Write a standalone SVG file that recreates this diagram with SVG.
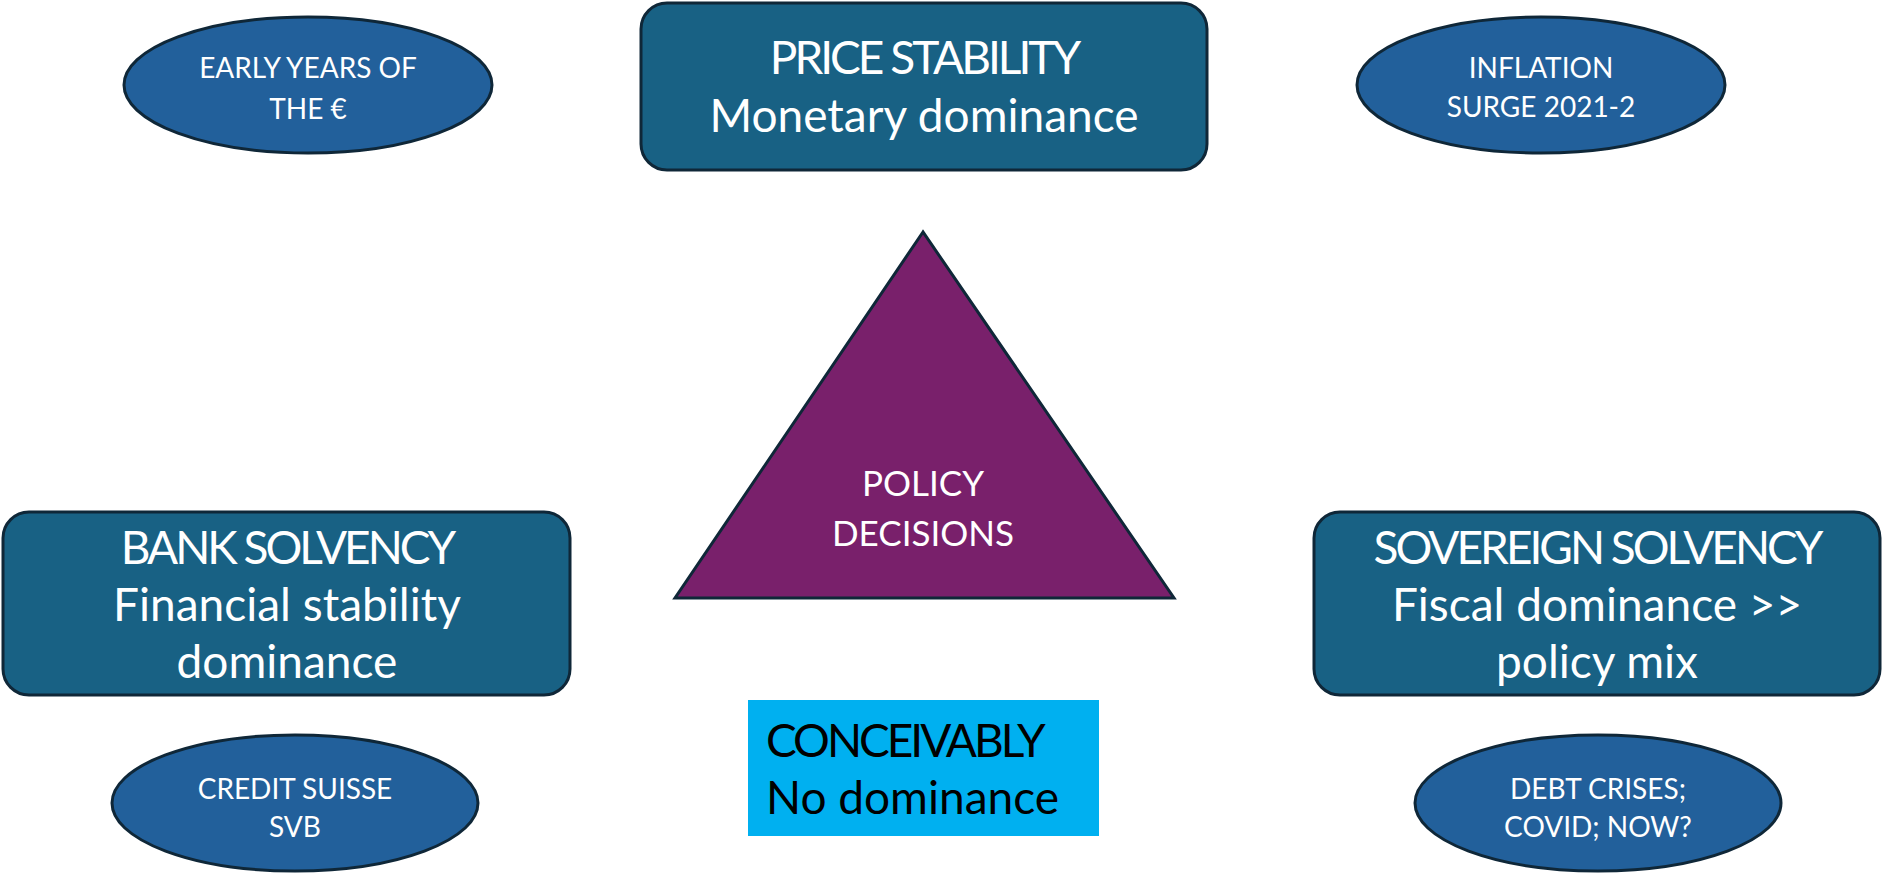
<svg xmlns="http://www.w3.org/2000/svg" width="1883" height="873" viewBox="0 0 1883 873">
<style>
.box{fill:#186184;stroke:#0F2738;stroke-width:3}
.ell{fill:#22609B;stroke:#0F2738;stroke-width:3}
.tri{fill:#79206B;stroke:#0F2738;stroke-width:3}
.big{font-family:Lato,"Liberation Sans",sans-serif;font-size:46px;fill:#fff;text-anchor:middle}
.caps{letter-spacing:-3px}
.sm{font-family:Lato,"Liberation Sans",sans-serif;font-size:28px;fill:#fff;text-anchor:middle}
.mid{font-family:Lato,"Liberation Sans",sans-serif;font-size:35px;fill:#fff;text-anchor:middle}
.blk{font-family:Lato,"Liberation Sans",sans-serif;font-size:46px;fill:#000}
</style>
<rect width="1883" height="873" fill="#fff"/>
<g id="connectors"></g>
<g id="early-years">
<ellipse class="ell" cx="308" cy="85" rx="184" ry="68"/>
<text class="sm" x="308" y="78">EARLY YEARS OF</text>
<text class="sm" x="308" y="119">THE €</text>
</g>
<g id="price-stability">
<rect class="box" x="641" y="3" width="566" height="167" rx="26"/>
<text class="big caps" x="924" y="74">PRICE STABILITY</text>
<text class="big" x="924" y="132">Monetary dominance</text>
</g>
<g id="inflation">
<ellipse class="ell" cx="1541" cy="85" rx="184" ry="68"/>
<text class="sm" x="1541" y="78">INFLATION</text>
<text class="sm" x="1541" y="117">SURGE 2021-2</text>
</g>
<g id="policy-decisions">
<polygon class="tri" points="923,232 675,598 1174,598"/>
<text class="mid" x="923" y="496">POLICY</text>
<text class="mid" x="923" y="546">DECISIONS</text>
</g>
<g id="bank-solvency">
<rect class="box" x="3" y="512" width="567" height="183" rx="26"/>
<text class="big caps" x="287" y="564">BANK SOLVENCY</text>
<text class="big" x="287" y="621">Financial stability</text>
<text class="big" x="287" y="678">dominance</text>
</g>
<g id="sovereign-solvency">
<rect class="box" x="1314" y="512" width="566" height="183" rx="26"/>
<text class="big caps" x="1597" y="564">SOVEREIGN SOLVENCY</text>
<text class="big" x="1597" y="621">Fiscal dominance &gt;&gt;</text>
<text class="big" x="1597" y="678">policy mix</text>
</g>
<g id="conceivably">
<rect x="748" y="700" width="351" height="136" fill="#00B0F0"/>
<text class="blk caps" x="766" y="757">CONCEIVABLY</text>
<text class="blk" x="766" y="814">No dominance</text>
</g>
<g id="credit-suisse">
<ellipse class="ell" cx="295" cy="803" rx="183" ry="68"/>
<text class="sm" x="295" y="799">CREDIT SUISSE</text>
<text class="sm" x="295" y="837">SVB</text>
</g>
<g id="debt-crises">
<ellipse class="ell" cx="1598" cy="803" rx="183" ry="68"/>
<text class="sm" x="1598" y="799">DEBT CRISES;</text>
<text class="sm" x="1598" y="837">COVID; NOW?</text>
</g>
</svg>
